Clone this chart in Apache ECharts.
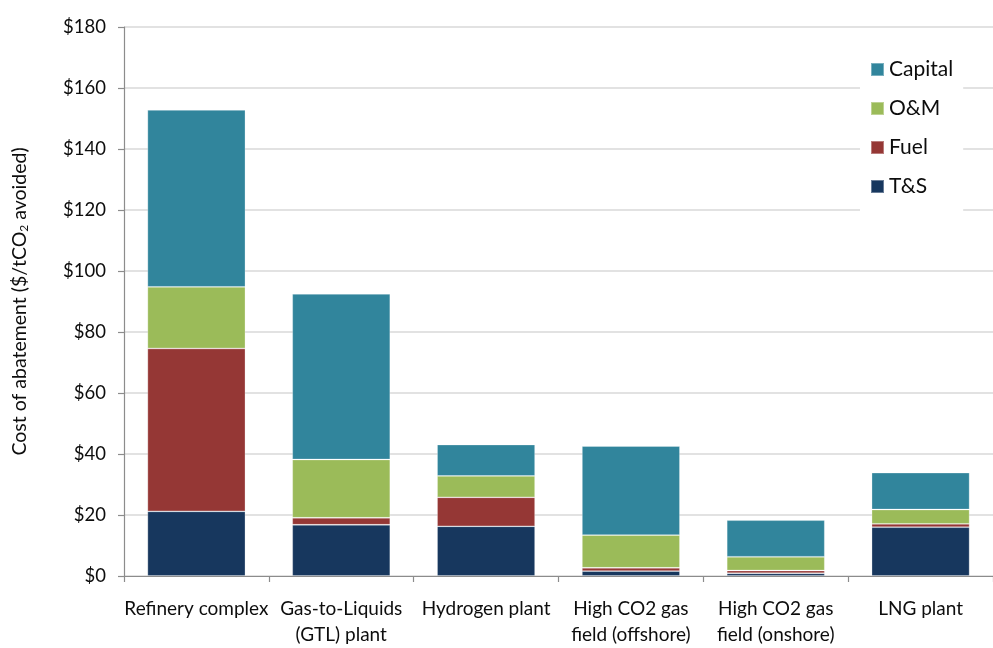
<!DOCTYPE html>
<html>
<head>
<meta charset="utf-8">
<script src="https://cdn.jsdelivr.net/npm/echarts@6/dist/echarts.min.js"></script>
<style>
  html, body { margin: 0; padding: 0; background: #fff; }
  #chart { width: 993px; height: 648px; }
</style>
</head>
<body>
<div id="chart"></div>
<script>
// Abatement cost by facility type, split into cost components ($/tCO2 avoided)
const categories = [
  'Refinery complex',
  'Gas-to-Liquids\n(GTL) plant',
  'Hydrogen plant',
  'High CO2 gas\nfield (offshore)',
  'High CO2 gas\nfield (onshore)',
  'LNG plant'
];
const tsCost      = [21.2, 16.8, 16.3, 1.6, 0.9, 16.0];
const fuelCost    = [53.4, 2.3, 9.5, 1.1, 0.9, 1.1];
const omCost      = [20.2, 19.1, 7.0, 10.7, 4.5, 4.7];
const capitalCost = [58.0, 54.3, 10.3, 29.2, 12.0, 12.1];
const yTicks = { min: 0, max: 180, interval: 20 };

const font = 'Lato, "Open Sans", sans-serif';
const textColor = '#0d0d0d';

function stackSeries(name, data, color) {
  return {
    name: name,
    type: 'bar',
    stack: 'cost',
    data: data,
    barWidth: 98,
    itemStyle: { color: color, borderColor: 'rgba(255,255,255,0.35)', borderWidth: 0.8 },
    emphasis: { disabled: true }
  };
}

const chart = echarts.init(document.getElementById('chart'), null, { renderer: 'canvas' });
chart.setOption({
  animation: false,
  backgroundColor: '#fff',
  textStyle: { fontFamily: font, color: textColor },
  grid: { left: 124, top: 27, width: 878, height: 549.5, containLabel: false },
  legend: {
    orient: 'vertical',
    left: 860,
    top: 45,
    padding: [14, 10, 14, 10],
    backgroundColor: '#fff',
    itemWidth: 13,
    itemHeight: 13,
    itemGap: 18,
    icon: 'rect',
    data: ['Capital', 'O&M', 'Fuel', 'T&S'],
    textStyle: { fontFamily: font, fontSize: 21, color: textColor, lineHeight: 21 }
  },
  xAxis: {
    type: 'category',
    data: categories,
    axisLine: { lineStyle: { color: '#8c8c8c', width: 1.2 } },
    axisTick: { show: true, alignWithLabel: false, length: 6, lineStyle: { color: '#8c8c8c', width: 1.2 } },
    axisLabel: { fontFamily: font, fontSize: 19, color: textColor, margin: 20, lineHeight: 26, interval: 0 },
    splitLine: { show: false }
  },
  yAxis: {
    type: 'value',
    min: yTicks.min,
    max: yTicks.max,
    interval: yTicks.interval,
    axisLine: { show: true, lineStyle: { color: '#8c8c8c', width: 1.2 } },
    axisTick: { show: true, length: 6, lineStyle: { color: '#8c8c8c', width: 1.2 } },
    axisLabel: { fontFamily: font, fontSize: 18.5, color: textColor, margin: 18, formatter: v => '$' + v },
    splitLine: { lineStyle: { color: '#d9d9d9', width: 1.5 } },
    name: '{a|Cost of abatement ($/tCO}{s|2}{a| avoided)}',
    nameLocation: 'middle',
    nameGap: 94,
    nameRotate: 90,
    nameTextStyle: {
      rich: {
        a: { fontFamily: font, fontSize: 19.5, color: textColor },
        s: { fontFamily: font, fontSize: 12, color: textColor, padding: [9, 0, 0, 0] }
      }
    }
  },
  series: [
    stackSeries('T&S', tsCost, '#17375e'),
    stackSeries('Fuel', fuelCost, '#953735'),
    stackSeries('O&M', omCost, '#9bbb59'),
    stackSeries('Capital', capitalCost, '#31859c')
  ]
});
</script>
</body>
</html>
